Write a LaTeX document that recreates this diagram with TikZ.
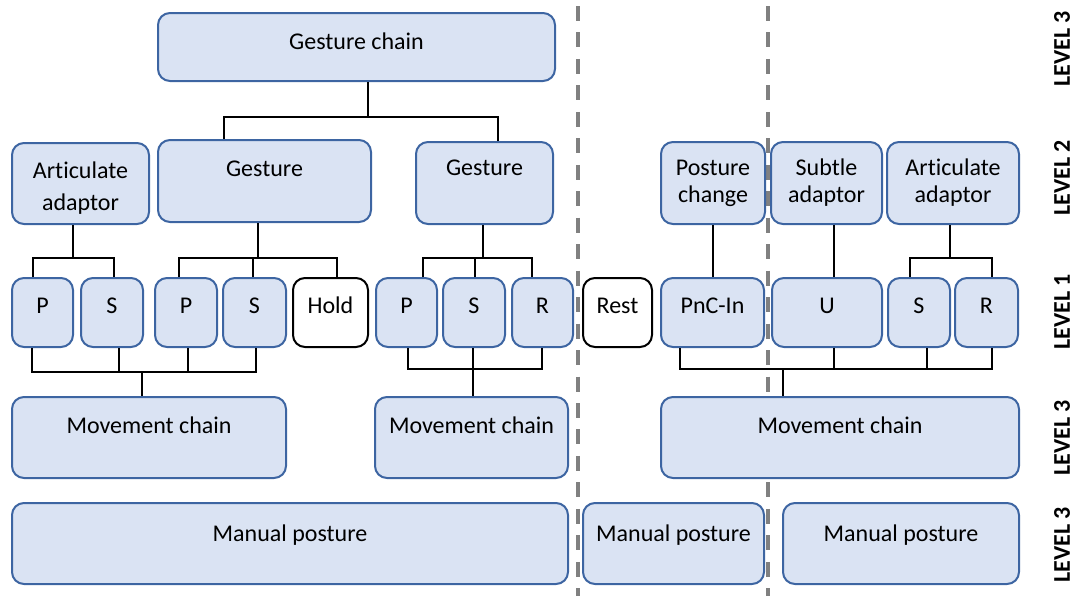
\documentclass[tikz,border=0pt]{standalone}
\usepackage{fontspec}
\setmainfont[Ligatures=NoCommon]{Carlito}
\usetikzlibrary{fit}
\definecolor{boxfill}{HTML}{DAE3F3}
\definecolor{boxline}{HTML}{3D65A2}
\definecolor{sepgray}{HTML}{808080}
\tikzset{
  unitbox/.style={draw=boxline, fill=boxfill, line width=1.5pt, rounded corners=9pt, inner sep=0pt},
  plainbox/.style={draw=black, fill=white, line width=1.5pt, rounded corners=9pt, inner sep=0pt},
  lbl/.style={font=\fontsize{18}{21}\selectfont, anchor=base, inner sep=0pt},
  lvl/.style={font=\fontsize{18}{21}\selectfont\bfseries, rotate=90, inner sep=0pt},
  conn/.style={draw=black, line width=1.5pt},
  sepline/.style={draw=sepgray, line width=2.7pt, dash pattern=on 11.25pt off 8.6pt},
}
% box from corner (x1,y1) to corner (x2,y2), in pixel units
\newcommand\mkbox[6]{\node[#1, fit={(#3,#4) (#5,#6)}] (#2) {};}
\begin{document}
\begin{tikzpicture}[x=0.75pt, y=-0.75pt]
\useasboundingbox (0,0) rectangle (1074,596);

% separators between the three segments
\coordinate (sa-top) at (578,6);   \coordinate (sa-bot) at (578,596);
\coordinate (sb-top) at (768,6);   \coordinate (sb-bot) at (768,596);
\draw[sepline] (sa-top) -- (sa-bot);
\draw[sepline] (sb-top) -- (sb-bot);

% ---------- level 3: gesture chain ----------
\mkbox{unitbox}{gc}{158}{13}{555}{81}
\node[lbl] (gc-t) at (356.5,49) {Gesture chain};

% ---------- level 2 ----------
\mkbox{unitbox}{aa1}{12}{143}{149}{224}
\node[lbl] (aa1-t1) at (80.5,178) {Articulate};
\node[lbl] (aa1-t2) at (80.5,210) {adaptor};
\mkbox{unitbox}{g1}{158}{140}{371}{222}
\node[lbl] (g1-t) at (264.5,176) {Gesture};
\mkbox{unitbox}{g2}{416}{142}{553}{224}
\node[lbl] (g2-t) at (484.5,175) {Gesture};
\mkbox{unitbox}{pc}{661}{142}{765}{224}
\node[lbl] (pc-t1) at (713,175) {Posture};
\node[lbl] (pc-t2) at (713,202) {change};
\mkbox{unitbox}{sad}{771}{142}{882}{224}
\node[lbl] (sad-t1) at (826.5,175) {Subtle};
\node[lbl] (sad-t2) at (826.5,202) {adaptor};
\mkbox{unitbox}{aa2}{887}{142}{1019}{224}
\node[lbl] (aa2-t1) at (953,175) {Articulate};
\node[lbl] (aa2-t2) at (953,202) {adaptor};

% ---------- level 1 ----------
\mkbox{unitbox}{p1}{12}{278}{73}{347}      \node[lbl] at (42.5,313) {P};
\mkbox{unitbox}{s1}{81}{278}{143}{347}     \node[lbl] at (112,313) {S};
\mkbox{unitbox}{p2}{155}{278}{217}{347}    \node[lbl] at (186,313) {P};
\mkbox{unitbox}{s2}{223}{278}{286}{347}    \node[lbl] at (254.5,313) {S};
\mkbox{plainbox}{hold}{293}{278}{368}{347} \node[lbl] at (330.5,313) {Hold};
\mkbox{unitbox}{p3}{376}{278}{437}{347}    \node[lbl] at (406.5,313) {P};
\mkbox{unitbox}{s3}{443}{278}{505}{347}    \node[lbl] at (474,313) {S};
\mkbox{unitbox}{r3}{512}{278}{573}{347}    \node[lbl] at (542.5,313) {R};
\mkbox{plainbox}{rest}{583}{278}{652}{347} \node[lbl] at (617.5,313) {Rest};
\mkbox{unitbox}{pnc}{661}{278}{764}{347}   \node[lbl] at (712.5,313) {PnC-In};
\mkbox{unitbox}{u}{772}{278}{882}{347}     \node[lbl] at (827,313) {U};
\mkbox{unitbox}{s4}{888}{278}{950}{347}    \node[lbl] at (919,313) {S};
\mkbox{unitbox}{r4}{955}{278}{1018}{347}   \node[lbl] at (986.5,313) {R};

% ---------- level 3: movement chains ----------
\mkbox{unitbox}{mc1}{12}{397}{286}{478}
\node[lbl] (mc1-t) at (149,433) {Movement chain};
\mkbox{unitbox}{mc2}{375}{397}{568}{478}
\node[lbl] (mc2-t) at (471.5,433) {Movement chain};
\mkbox{unitbox}{mc3}{661}{397}{1019}{478}
\node[lbl] (mc3-t) at (840,433) {Movement chain};

% ---------- level 3: manual postures ----------
\mkbox{unitbox}{mp1}{12}{503}{568}{584}
\node[lbl] (mp1-t) at (290,541) {Manual posture};
\mkbox{unitbox}{mp2}{583}{503}{764}{584}
\node[lbl] (mp2-t) at (673.5,541) {Manual posture};
\mkbox{unitbox}{mp3}{783}{503}{1019}{584}
\node[lbl] (mp3-t) at (901,541) {Manual posture};

% ---------- level captions ----------
\node[lvl] (l3a) at (1062,49)  {LEVEL 3};
\node[lvl] (l2)  at (1062,178) {LEVEL 2};
\node[lvl] (l1)  at (1062,312) {LEVEL 1};
\node[lvl] (l3b) at (1062,438) {LEVEL 3};
\node[lvl] (l3c) at (1062,545) {LEVEL 3};

% ---------- connectors: gesture chain to gestures ----------
\draw[conn] (368,0 |- gc.south) -- (368,117);
\draw[conn] (224,0 |- g1.north) -- (224,117) -- (498,117) -- (498,0 |- g2.north);

% ---------- connectors: level 2 to level 1 ----------
\draw[conn] (73,0 |- aa1.south) -- (73,258);
\draw[conn] (33,0 |- p1.north) -- (33,258) -- (114,258) -- (114,0 |- s1.north);

\draw[conn] (258,0 |- g1.south) -- (258,258);
\draw[conn] (179,0 |- p2.north) -- (179,258) -- (337,258) -- (337,0 |- hold.north);
\draw[conn] (253,0 |- s2.north) -- (253,258);

\draw[conn] (483,0 |- g2.south) -- (483,258);
\draw[conn] (423,0 |- p3.north) -- (423,258) -- (532,258) -- (532,0 |- r3.north);
\draw[conn] (475,0 |- s3.north) -- (475,258);

\draw[conn] (713,0 |- pc.south) -- (713,0 |- pnc.north);
\draw[conn] (834,0 |- sad.south) -- (834,0 |- u.north);

\draw[conn] (950,0 |- aa2.south) -- (950,258);
\draw[conn] (910,0 |- s4.north) -- (910,258) -- (992,258) -- (992,0 |- r4.north);

% ---------- connectors: level 1 to movement chains ----------
\draw[conn] (32,0 |- p1.south) -- (32,372) -- (256,372) -- (256,0 |- s2.south);
\draw[conn] (119,0 |- s1.south) -- (119,372);
\draw[conn] (188,0 |- p2.south) -- (188,372);
\draw[conn] (142,372) -- (142,0 |- mc1.north);

\draw[conn] (408,0 |- p3.south) -- (408,369) -- (542,369) -- (542,0 |- r3.south);
\draw[conn] (473,0 |- s3.south) -- (473,0 |- mc2.north);

\draw[conn] (680,0 |- pnc.south) -- (680,369) -- (992,369) -- (992,0 |- r4.south);
\draw[conn] (834,0 |- u.south) -- (834,369);
\draw[conn] (927,0 |- s4.south) -- (927,369);
\draw[conn] (783,369) -- (783,0 |- mc3.north);
\end{tikzpicture}
\end{document}
